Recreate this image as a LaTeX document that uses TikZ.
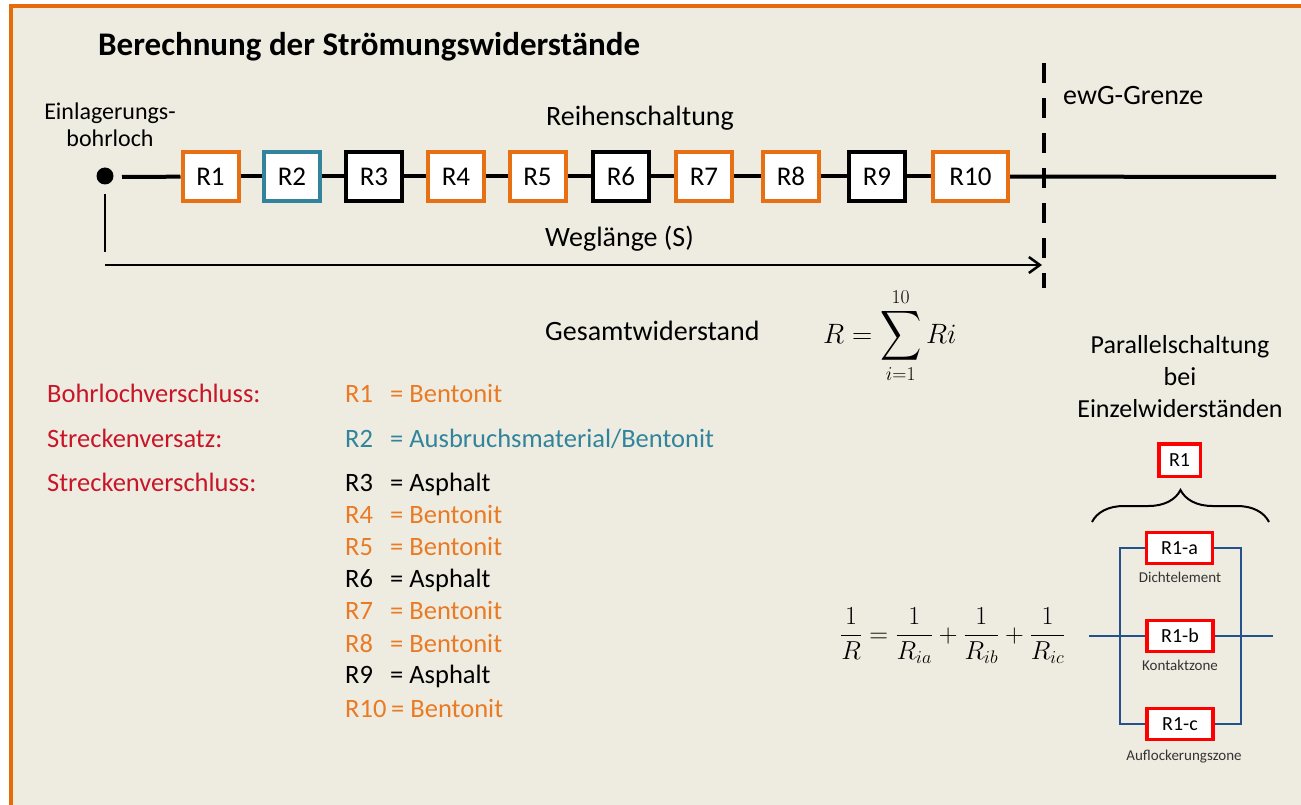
\RequirePackage{fix-cm}
\documentclass[tikz,border=0pt]{standalone}
\usepackage{amsmath}
\usepackage{graphicx}
\usepackage{fontspec}
\setmainfont{Carlito}
\usetikzlibrary{arrows.meta,decorations.pathreplacing}
\definecolor{bg}{RGB}{238,236,225}
\definecolor{frameor}{RGB}{228,108,10}
\definecolor{boxor}{RGB}{232,112,20}
\definecolor{txtor}{RGB}{234,122,36}
\definecolor{myteal}{RGB}{49,132,155}
\definecolor{redtxt}{RGB}{200,22,40}
\definecolor{blueln}{RGB}{36,80,140}
\tikzset{
  rbox/.style={draw=#1, line width=4pt, fill=white, minimum width=56pt, minimum height=49pt, inner sep=0pt, font=\fontsize{27}{32}\selectfont},
  sbox/.style={draw=red, line width=3.5pt, fill=white, minimum width=66pt, minimum height=31pt, inner sep=0pt, font=\fontsize{20}{24}\selectfont},
  lbl/.style={inner sep=0pt, font=\fontsize{28}{34}\selectfont},
  lst/.style={inner sep=0pt, anchor=base west, font=\fontsize{26.5}{31}\selectfont},
  small/.style={inner sep=0pt, anchor=base, font=\fontsize{15}{18}\selectfont, text=black!80},
  blueline/.style={draw=blueln, line width=2.7pt},
  chain/.style={line width=4pt}
}
\begin{document}
\begin{tikzpicture}[x=1pt,y=-1pt]
\useasboundingbox (0,0) rectangle (1301,805);
\fill[white] (0,0) rectangle (1301,805);
\fill[bg] (9,4) rectangle (1301,805);
\draw[frameor, line width=4pt] (11,805) -- (11,6) -- (1301,6);

% title
\node[anchor=base west, inner sep=0pt, font=\fontsize{33}{39}\selectfont\bfseries] (title) at (98,56) {Berechnung der Strömungswiderstände};

% top labels
\node[anchor=base, inner sep=0pt, font=\fontsize{24}{29}\selectfont] (einl) at (110,120) {Einlagerungs-};
\node[anchor=base, inner sep=0pt, font=\fontsize{24}{29}\selectfont] (bohr) at (110,147) {bohrloch};
\node[lbl, anchor=base] (reihe) at (640,126) {Reihenschaltung};
\node[lbl, anchor=base west] (ewg) at (1063,105) {ewG-Grenze};
\node[lbl, anchor=base west] (weg) at (545,247) {Weglänge (S)};

% chain
\node[circle, fill=black, minimum size=17pt, inner sep=0pt] (dot) at (105,176) {};
\coordinate (ls) at (122,177);
\coordinate (le) at (1276,177);
\node[rbox=boxor] (R1) at (210.5,176.5) {R1};
\node[rbox=myteal] (R2) at (292,176.5) {R2};
\node[rbox=black] (R3) at (374,176.5) {R3};
\node[rbox=boxor] (R4) at (456,176.5) {R4};
\node[rbox=boxor] (R5) at (537.5,176.5) {R5};
\node[rbox=black] (R6) at (621,176.5) {R6};
\node[rbox=boxor] (R7) at (704,176.5) {R7};
\node[rbox=boxor] (R8) at (791,176.5) {R8};
\node[rbox=black] (R9) at (877,176.5) {R9};
\node[rbox=boxor, minimum width=75pt] (R10) at (970.5,176.5) {R10};
\draw[chain] (ls) -- (R1);
\draw[chain] (R1) -- (R2);
\draw[chain] (R2) -- (R3);
\draw[chain] (R3) -- (R4);
\draw[chain] (R4) -- (R5);
\draw[chain] (R5) -- (R6);
\draw[chain] (R6) -- (R7);
\draw[chain] (R7) -- (R8);
\draw[chain] (R8) -- (R9);
\draw[chain] (R9) -- (R10);
\draw[chain] (R10) -- (le);

% path length
\coordinate (vt) at (105,194);
\coordinate (vb) at (105,252);
\coordinate (as) at (105,265);
\coordinate (ae) at (1042,265);
\draw[line width=2pt] (vt) -- (vb);
\draw[line width=2.5pt, -{Straight Barb[length=11pt,width=16pt]}] (as) -- (ae);

% boundary
\coordinate (gt) at (1044,63);
\coordinate (gb) at (1044,288);
\draw[line width=4pt, dash pattern=on 20pt off 15pt] (gt) -- (gb);

% total resistance
\node[lbl, anchor=base west] (ges) at (545,340) {Gesamtwiderstand};
\node[anchor=base west, inner sep=0pt, font=\fontsize{28}{34}\selectfont] (sumf) at (823,343) {$R=\mathop{\vcenter{\hbox{\scalebox{1.15}[1.4]{$\displaystyle\sum$}}}}\limits_{i=1}^{10} Ri$};

% list
\node[lst, text=redtxt] (l1) at (47,402) {Bohrlochverschluss:};
\node[lst, text=redtxt] (l2) at (47,447) {Streckenversatz:};
\node[lst, text=redtxt] (l3) at (47,491) {Streckenverschluss:};
\node[lst, text=txtor] (r1) at (345,402) {R1};
\node[lst, text=txtor] (m1) at (390,402) {= Bentonit};
\node[lst, text=myteal] (r2) at (345,447) {R2};
\node[lst, text=myteal] (m2) at (390,447) {= Ausbruchsmaterial/Bentonit};
\node[lst, text=black] (r3) at (345,491) {R3};
\node[lst, text=black] (m3) at (390,491) {= Asphalt};
\node[lst, text=txtor] (r4) at (345,523) {R4};
\node[lst, text=txtor] (m4) at (390,523) {= Bentonit};
\node[lst, text=txtor] (r5) at (345,555) {R5};
\node[lst, text=txtor] (m5) at (390,555) {= Bentonit};
\node[lst, text=black] (r6) at (345,587) {R6};
\node[lst, text=black] (m6) at (390,587) {= Asphalt};
\node[lst, text=txtor] (r7) at (345,619) {R7};
\node[lst, text=txtor] (m7) at (390,619) {= Bentonit};
\node[lst, text=txtor] (r8) at (345,652) {R8};
\node[lst, text=txtor] (m8) at (390,652) {= Bentonit};
\node[lst, text=black] (r9) at (345,683) {R9};
\node[lst, text=black] (m9) at (390,683) {= Asphalt};
\node[lst, text=txtor] (r10) at (345,717) {R10};
\node[lst, text=txtor] (m10) at (391,717) {= Bentonit};

% parallel
\node[anchor=base, inner sep=0pt, font=\fontsize{26}{31}\selectfont] (p1) at (1180,353) {Parallelschaltung};
\node[anchor=base, inner sep=0pt, font=\fontsize{26}{31}\selectfont] (p2) at (1180,385) {bei};
\node[anchor=base, inner sep=0pt, font=\fontsize{26}{31}\selectfont] (p3) at (1180,417) {Einzelwiderständen};
\node[sbox, minimum width=41.5pt, minimum height=32.5pt] (Rt) at (1179.5,460) {R1};
\coordinate (brl) at (1092,522);
\coordinate (brr) at (1269,522);
\draw[line width=2pt, decorate, decoration={brace, amplitude=32pt}] (brl) -- (brr);

\coordinate (lt) at (1120,548);
\coordinate (lb) at (1120,724);
\coordinate (rt) at (1241,548);
\coordinate (rb) at (1241,724);
\coordinate (inL) at (1089,636);
\coordinate (outR) at (1273,636);
\node[sbox] (Ra) at (1179.5,548) {R1-a};
\node[sbox] (Rb) at (1180,636) {R1-b};
\node[sbox] (Rc) at (1180,724) {R1-c};
\draw[blueline] (Ra.west) -- (lt) -- (lb) -- (Rc.west);
\draw[blueline] (Ra.east) -- (rt) -- (rb) -- (Rc.east);
\draw[blueline] (inL) -- (Rb.west);
\draw[blueline] (Rb.east) -- (outR);
\node[small] (da) at (1180,582) {Dichtelement};
\node[small] (db) at (1180,670) {Kontaktzone};
\node[small] (dc) at (1184,760) {Auflockerungszone};

\node[anchor=base west, inner sep=0pt, font=\fontsize{26}{31}\selectfont] (parf) at (840,642) {$\displaystyle \frac{1}{R}=\frac{1}{R_{ia}}+\frac{1}{R_{ib}}+\frac{1}{R_{ic}}$};
\end{tikzpicture}
\end{document}
